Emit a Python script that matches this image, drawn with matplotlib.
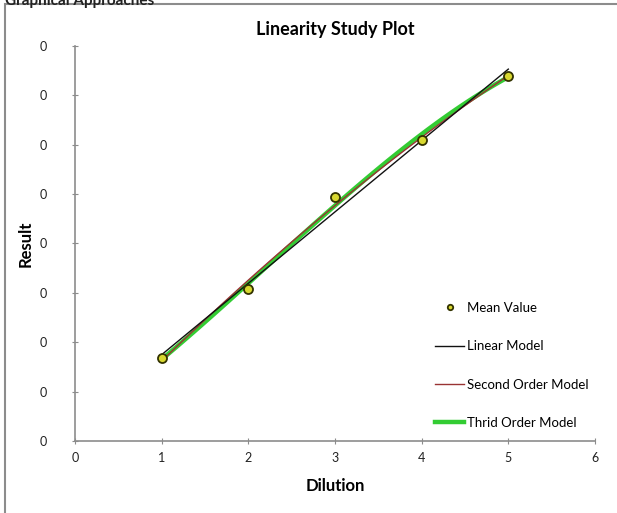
import numpy as np
import matplotlib.pyplot as plt
from matplotlib.patches import Rectangle
from matplotlib.ticker import FuncFormatter

plt.rcParams['font.family'] = ['Lato', 'DejaVu Sans']

# mean results per dilution level
dilution = [1, 2, 3, 4, 5]
mean_value = [0.084, 0.154, 0.247, 0.305, 0.370]

y_ticks = [0.0, 0.05, 0.10, 0.15, 0.20, 0.25, 0.30, 0.35, 0.40]
x_ticks = [0, 1, 2, 3, 4, 5, 6]

x = np.array(dilution, dtype=float)
y = np.array(mean_value)
xs = np.linspace(1, 5, 100)
lin = np.polyval(np.polyfit(x, y, 1), xs)
quad = np.polyval(np.polyfit(x, y, 2), xs)
cub = np.polyval(np.polyfit(x, y, 3), xs)

fig = plt.figure(figsize=(6.17, 5.13), dpi=100)
ax = fig.add_axes([0.1216, 0.1404, 0.8427, 0.7699])

# outer chart border
fig.patches.append(Rectangle((5 / 617, -0.05), 1.1, 1 - 4 / 513 + 0.05,
                             transform=fig.transFigure, fill=False,
                             edgecolor='#8c8c8c', linewidth=1.5))
fig.text(5 / 617, 1.0 - 1 / 513, 'Graphical Approaches', fontsize=11, fontweight='bold',
         va='center', ha='left', color='#222222')

ax.plot(xs, cub, color='#33cc33', linewidth=3.2, label='Thrid Order Model', zorder=2)
ax.plot(xs, quad, color='#993333', linewidth=1.0, label='Second Order Model', zorder=3)
ax.plot(xs, lin, color='#111111', linewidth=1.0, label='Linear Model', zorder=4)
ax.plot(dilution, mean_value, linestyle='none', marker='o', markersize=6.5,
        markerfacecolor='#d8d830', markeredgecolor='#333300', markeredgewidth=1.3,
        label='Mean Value', zorder=5)

ax.set_xlim(0, 6)
ax.set_ylim(0, 0.40)
ax.set_xticks(x_ticks)
ax.set_yticks(y_ticks)
ax.yaxis.set_major_formatter(FuncFormatter(lambda v, p: '%d' % round(v)))

for s in ['top', 'right']:
    ax.spines[s].set_visible(False)
for s in ['left', 'bottom']:
    ax.spines[s].set_color('#8c8c8c')
    ax.spines[s].set_linewidth(1.2)
ax.tick_params(axis='both', colors='#8c8c8c', length=4, labelsize=9,
               labelcolor='#222222', direction='inout')
ax.tick_params(axis='y', pad=18)
ax.tick_params(axis='x', pad=6)

ax.set_title('Linearity Study Plot', fontsize=13, fontweight='bold', pad=8)
ax.set_xlabel('Dilution', fontsize=12, fontweight='bold', labelpad=10)
ax.set_ylabel('Result', fontsize=12, fontweight='bold')
ax.yaxis.set_label_coords(-0.08, 0.5)

handles, labels = ax.get_legend_handles_labels()
order = [3, 2, 1, 0]
ax.legend([handles[i] for i in order], [labels[i] for i in order],
          loc='lower right', bbox_to_anchor=(1.01, 0.0), frameon=False,
          fontsize=9.5, labelspacing=2.0, handlelength=2.2, handletextpad=0.2,
          markerscale=0.6)

fig.savefig('out.png', dpi=100)
